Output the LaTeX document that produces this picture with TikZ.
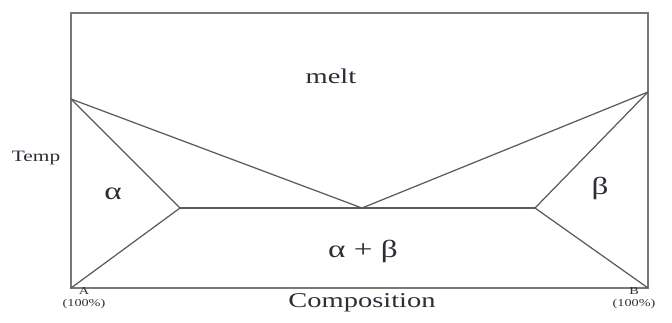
\documentclass[tikz,border=0pt]{standalone}
\usepackage{fontspec}
\setmainfont{Liberation Serif}
\usepackage{tikz}
\usetikzlibrary{positioning}
\definecolor{frameline}{RGB}{120,120,120}
\definecolor{phaseline}{RGB}{90,90,90}
\definecolor{labeltext}{RGB}{45,45,55}

% text in the scan is drawn a bit wider than it is tall
\newcommand{\widetxt}[1]{\scalebox{1.35}[1]{#1}}

\tikzset{
    phase/.style={draw=phaseline, line width=0.7pt},
    region/.style={text=labeltext, font=\fontsize{14}{16}\selectfont},
    endlabel/.style={text=labeltext, font=\fontsize{6}{7}\selectfont, align=center, inner sep=0pt}
}

\begin{document}
\begin{tikzpicture}[x=0.02cm, y=-0.02cm]
    \useasboundingbox (0,0) rectangle (672,322);

    % Frame
    \draw[frameline, line width=1pt] (71,13) rectangle (648,288);

    % Points of the diagram
    \coordinate (meltA) at (71,99);
    \coordinate (meltB) at (648,92);
    \coordinate (pureA) at (71,288);
    \coordinate (pureB) at (648,288);
    \coordinate (solA) at (180,208);
    \coordinate (eut) at (362,208);
    \coordinate (solB) at (535,208);

    % Liquidus
    \draw[phase] (meltA) -- (eut) -- (meltB);
    % Solidus and solvus
    \draw[phase] (meltA) -- (solA) -- (pureA);
    \draw[phase] (meltB) -- (solB) -- (pureB);
    % Eutectic line
    \draw[phase] (solA) -- (solB);

    % Regions
    \node[region, font=\fontsize{12}{14}\selectfont] (melt) at (331,76) {\widetxt{melt}};
    \node[region] (alpha) at (113,194) {\widetxt{α}};
    \node[region] (beta) at (600,188) {\widetxt{β}};
    \node[region] (mix) at (363,251) {\widetxt{α + β}};

    % Axes
    \node[text=labeltext, font=\fontsize{12}{14}\selectfont] (comp) at (362,303) {\widetxt{Composition}};
    \node[text=labeltext, font=\fontsize{9}{11}\selectfont] (temp) at (36,158) {\widetxt{Temp}};
    \node[endlabel] (endA) at (84,298) {\widetxt{A}\\\widetxt{(100\%)}};
    \node[endlabel] (endB) at (634,298) {\widetxt{B}\\\widetxt{(100\%)}};
\end{tikzpicture}
\end{document}
